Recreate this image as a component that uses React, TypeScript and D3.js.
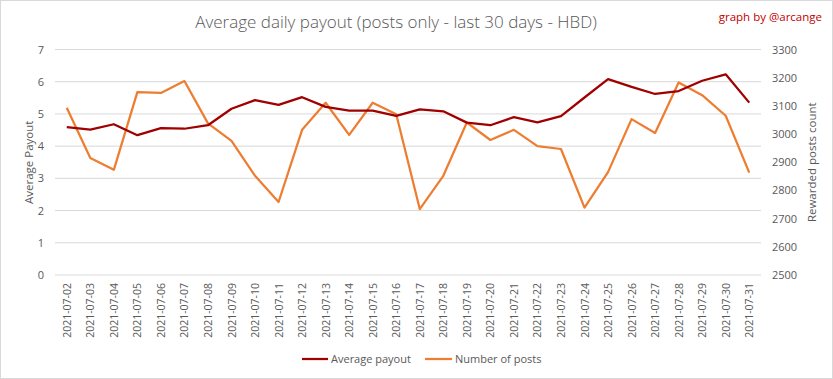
import React from "react";
import * as d3 from "d3";

const dates = [
  "2021-07-02","2021-07-03","2021-07-04","2021-07-05","2021-07-06","2021-07-07","2021-07-08","2021-07-09","2021-07-10","2021-07-11",
  "2021-07-12","2021-07-13","2021-07-14","2021-07-15","2021-07-16","2021-07-17","2021-07-18","2021-07-19","2021-07-20","2021-07-21",
  "2021-07-22","2021-07-23","2021-07-24","2021-07-25","2021-07-26","2021-07-27","2021-07-28","2021-07-29","2021-07-30","2021-07-31",
];
const avgPayout = [
  4.59, 4.51, 4.68, 4.34, 4.56, 4.54, 4.65, 5.16, 5.43, 5.28,
  5.52, 5.22, 5.10, 5.10, 4.94, 5.14, 5.08, 4.73, 4.65, 4.90,
  4.74, 4.93, 5.51, 6.08, 5.84, 5.62, 5.71, 6.03, 6.23, 5.35,
];
const numPosts = [
  3093, 2915, 2873, 3149, 3146, 3188, 3038, 2976, 2852, 2759,
  3015, 3111, 2997, 3111, 3070, 2734, 2852, 3041, 2979, 3015,
  2957, 2947, 2739, 2865, 3053, 3004, 3183, 3138, 3065, 2863,
];
const leftTicks = [0, 1, 2, 3, 4, 5, 6, 7];
const rightTicks = [2500, 2600, 2700, 2800, 2900, 3000, 3100, 3200, 3300];

const W = 833, H = 379;
const PL = 55, PR = 761, PT = 49.5, PB = 275;
const DARK = "#A00000";
const ORANGE = "#ED7D31";
const GRAY = "#595959";
const FONT = "'Open Sans', sans-serif";

export default function App() {
  const x = d3.scaleBand<string>().domain(dates).range([PL, PR]);
  const yL = d3.scaleLinear().domain([0, 7]).range([PB, PT]);
  const yR = d3.scaleLinear().domain([2500, 3300]).range([PB, PT]);
  const cx = (d: string) => (x(d) as number) + x.bandwidth() / 2;

  const linePay = d3.line<number>().x((_, i) => cx(dates[i])).y((v) => yL(v));
  const linePosts = d3.line<number>().x((_, i) => cx(dates[i])).y((v) => yR(v));

  return (
    <svg width={W} height={H} style={{ position: "absolute", left: 0, top: 0 }} fontFamily={FONT}>
      <rect x={0.5} y={0.5} width={W - 1} height={H - 1} fill="#fff" stroke="#d9d9d9" />
      <text x={396} y={28} textAnchor="middle" fontSize={17} fill={GRAY} style={{ fontWeight: 300 }}>
        Average daily payout (posts only - last 30 days - HBD)
      </text>
      <text x={822} y={21} textAnchor="end" fontSize={11.5} fill="#C00000">graph by @arcange</text>

      {leftTicks.map((t) => (
        <line key={"g" + t} x1={PL} x2={PR} y1={yL(t)} y2={yL(t)} stroke="#d9d9d9" strokeWidth={1} />
      ))}
      {leftTicks.map((t) => (
        <text key={"l" + t} x={44} y={yL(t) + 4} textAnchor="end" fontSize={11} fill={GRAY}>{t}</text>
      ))}
      {rightTicks.map((t) => (
        <text key={"r" + t} x={772} y={yR(t) + 4} textAnchor="start" fontSize={11} fill={GRAY}>{t}</text>
      ))}
      <text transform={`translate(33,${(PT + PB) / 2}) rotate(-90)`} textAnchor="middle" fontSize={11.5} fill={GRAY}>
        Average Payout
      </text>
      <text transform={`translate(816,${(PT + PB) / 2}) rotate(-90)`} textAnchor="middle" fontSize={11.5} fill={GRAY}>
        Rewarded posts count
      </text>

      {dates.map((d) => (
        <text key={d} transform={`translate(${cx(d) + 4},283) rotate(-90)`} textAnchor="end" fontSize={10.5} fill={GRAY}>
          {d}
        </text>
      ))}

      <path d={linePosts(numPosts) || ""} fill="none" stroke={ORANGE} strokeWidth={2.25} strokeLinejoin="round" />
      <path d={linePay(avgPayout) || ""} fill="none" stroke={DARK} strokeWidth={2.25} strokeLinejoin="round" />

      <line x1={302} x2={328} y1={359} y2={359} stroke={DARK} strokeWidth={2.25} />
      <text x={331} y={363} fontSize={11} fill={GRAY}>Average payout</text>
      <line x1={425} x2={452} y1={359} y2={359} stroke={ORANGE} strokeWidth={2.25} />
      <text x={455} y={363} fontSize={11} fill={GRAY}>Number of posts</text>
    </svg>
  );
}
